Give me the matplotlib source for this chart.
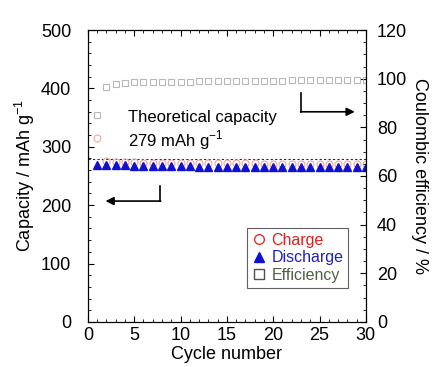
import numpy as np
from matplotlib import pyplot as plt
from matplotlib.lines import Line2D

# cycle data
cycles = list(range(1, 31))
charge = [315, 275, 274, 274, 274, 273, 273, 273, 273, 273,
          273, 272, 272, 272, 272, 272, 272, 272, 271, 271,
          271, 271, 271, 271, 270, 270, 270, 270, 270, 270]
discharge = [268, 268, 268, 268, 267, 267, 267, 267, 267, 267,
             267, 266, 266, 266, 266, 266, 266, 266, 266, 266,
             265, 265, 265, 265, 265, 265, 265, 265, 265, 265]
efficiency = [85.0, 96.5, 98.0, 98.4, 98.5, 98.6, 98.6, 98.7, 98.7, 98.8,
              98.8, 98.9, 98.9, 99.0, 99.0, 99.0, 99.1, 99.1, 99.2, 99.2,
              99.2, 99.3, 99.3, 99.3, 99.4, 99.4, 99.4, 99.5, 99.5, 99.5]
theoretical = 279


def main():
    plt.rcParams['font.family'] = ['Liberation Sans', 'DejaVu Sans']
    plt.rcParams['mathtext.fontset'] = 'custom'
    plt.rcParams['mathtext.rm'] = 'Liberation Sans'
    plt.rcParams['font.size'] = 13

    fig = plt.figure(figsize=(4.33, 3.67), dpi=100)
    ax = fig.add_subplot(111)
    fig.subplots_adjust(left=0.203, right=0.845, bottom=0.123, top=0.918)
    ax2 = ax.twinx()

    ax.axhline(theoretical, color='#202060', linestyle=(0, (2, 2)), linewidth=0.8)
    ax.plot(cycles, charge, 'o', mfc='none', mec='#f0a8a0', ms=5, mew=0.8)
    ax.plot(cycles, discharge, '^', color='#1010d0', ms=5.5)
    ax2.plot(cycles, efficiency, 's', mfc='none', mec='#b8b8b8', ms=5, mew=0.8)

    ax.set_xlim(0, 30)
    ax.set_ylim(0, 500)
    ax2.set_ylim(0, 120)
    ax.set_xticks(range(0, 31, 5))
    ax.set_xticks(range(0, 31, 1), minor=True)
    ax.set_yticks(range(0, 501, 100))
    ax.set_yticks(range(0, 501, 20), minor=True)
    ax2.set_yticks(range(0, 121, 20))
    ax2.set_yticks(range(0, 121, 5), minor=True)
    ax.tick_params(which='both', direction='in', top=True, labelsize=13)
    ax.tick_params(axis='x', pad=4)
    ax.tick_params(axis='y', pad=12)
    ax.tick_params(which='major', length=4)
    ax.tick_params(which='minor', length=2)
    ax2.tick_params(which='both', direction='in', labelsize=13, pad=8)
    ax2.tick_params(which='major', length=4)
    ax2.tick_params(which='minor', length=2)

    ax.set_xlabel('Cycle number', labelpad=1)
    ax.set_ylabel('Capacity / mAh g$^{-1}$', labelpad=3)
    ax2.set_ylabel('Coulombic efficiency / %', rotation=270, labelpad=15)

    ax.text(4.3, 327, 'Theoretical capacity\n279 mAh g$^{-1}$', fontsize=12,
            va='center', ha='left', linespacing=1.2)

    # arrows pointing to the axes
    ax.plot([7.8, 7.8], [233, 207], color='black', lw=1.2)
    ax.annotate('', xy=(1.9, 207), xytext=(7.85, 207),
                arrowprops=dict(arrowstyle='-|>', color='black', lw=1.2,
                                mutation_scale=12, shrinkA=0, shrinkB=0))
    ax.plot([23.0, 23.0], [392, 360], color='black', lw=1.2)
    ax.annotate('', xy=(28.8, 360), xytext=(22.95, 360),
                arrowprops=dict(arrowstyle='-|>', color='black', lw=1.2,
                                mutation_scale=12, shrinkA=0, shrinkB=0))

    handles = [
        Line2D([], [], marker='o', ls='none', mfc='none', mec='#e03030', ms=7, mew=1),
        Line2D([], [], marker='^', ls='none', color='#1010d0', ms=7),
        Line2D([], [], marker='s', ls='none', mfc='none', mec='#505050', ms=7, mew=1),
    ]
    leg = ax.legend(handles, ['Charge', 'Discharge', 'Efficiency'], loc='lower left',
                    bbox_to_anchor=(0.545, 0.09), fancybox=False, edgecolor='#606060',
                    handlelength=0.8, handletextpad=0.4, borderpad=0.3,
                    labelspacing=0.15, fontsize=11.5, framealpha=1)
    leg.get_frame().set_linewidth(0.8)
    for txt, col in zip(leg.get_texts(), ['#e02020', '#2020c0', '#506040']):
        txt.set_color(col)

    plt.savefig('out.png', dpi=100)
    plt.close()


if __name__ == "__main__":
    main()
